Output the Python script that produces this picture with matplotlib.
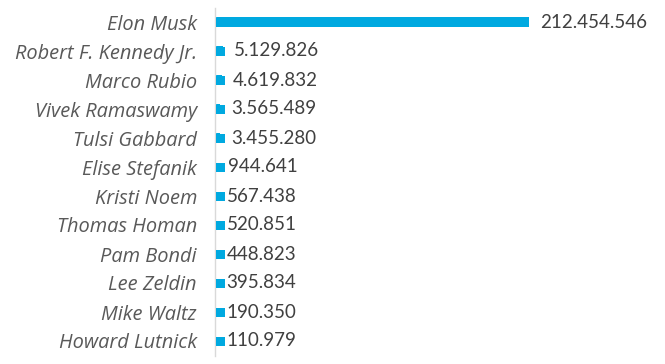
import matplotlib.pyplot as plt
from matplotlib.transforms import ScaledTranslation

names = ["Elon Musk", "Robert F. Kennedy Jr.", "Marco Rubio", "Vivek Ramaswamy",
         "Tulsi Gabbard", "Elise Stefanik", "Kristi Noem", "Thomas Homan",
         "Pam Bondi", "Lee Zeldin", "Mike Waltz", "Howard Lutnick"]
values = [212454546, 5129826, 4619832, 3565489, 3455280, 944641,
          567438, 520851, 448823, 395834, 190350, 110979]

bar_color = "#00a9e0"

fig = plt.figure(figsize=(6.65, 3.64), dpi=100)
ax = fig.add_axes([215 / 665, 1 - 355.5 / 364, 314 / 665, 348 / 364])

y = list(range(len(names)))
ax.barh(y, values, height=0.35, color=bar_color)

# tiny bars still show as a small square at the start
trans = ax.transData + ScaledTranslation(4.5 / 100, 0, fig.dpi_scale_trans)
ax.scatter([0] * len(y), y, marker="s", s=(9 * 72 / 100) ** 2, color=bar_color,
           linewidths=0, transform=trans, zorder=3, clip_on=False)

for yi, v in zip(y, values):
    label = f"{v:,}".replace(",", ".")
    ax.annotate(label, (v, yi), xytext=(8, 0), textcoords="offset points",
                va="center", ha="left", fontsize=13.5, color="#404040",
                family="Lato")

ax.set_xlim(0, max(values))
ax.set_ylim(len(names) - 0.5, -0.5)
ax.set_yticks(y)
ax.set_yticklabels(names, fontsize=14.4, style="italic", color="#595959",
                   family="Open Sans")
ax.tick_params(axis="y", length=0, pad=13)
ax.set_xticks([])
for s in ["top", "right", "bottom"]:
    ax.spines[s].set_visible(False)
ax.spines["left"].set_color("#d9d9d9")
ax.spines["left"].set_linewidth(1)

fig.savefig("out.png", dpi=100)
